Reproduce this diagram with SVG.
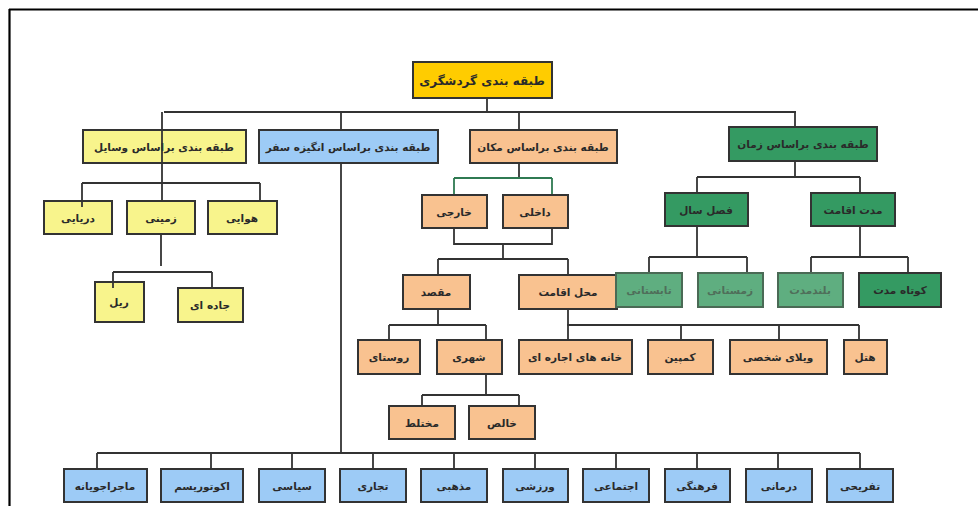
<svg xmlns="http://www.w3.org/2000/svg" width="978" height="506" viewBox="0 0 978 506">
<style>
.n rect{stroke:#333;stroke-width:2}
.y rect{fill:#f8f48c}
.r rect{fill:#ffcc00}
.b rect{fill:#9dcbf6}
.o rect{fill:#f9c290}
.g rect{fill:#349a62}
.gf rect{fill:#5fae80;stroke:#4a6a55}
text{font-family:"DejaVu Sans","Noto Sans",sans-serif;font-size:10.5px;font-weight:bold;text-anchor:middle;direction:rtl;fill:#2a2a2a}
.gf text{fill:#4f6e5a}
.c path{fill:none;stroke:#333;stroke-width:1.8}
</style>
<rect width="978" height="506" fill="#ffffff"/>
<path d="M9 9.5H978M9.5 9V506" stroke="#000" stroke-width="2.2" fill="none"/>
<g class="c" id="connectors">
<path d="M487 98V112M164 112H796M341 112V130M519 112V130M795 112V127"/>
<path d="M82 183H260M260 183V201M161 234V266M113 272H212M212 272V288"/>
<path d="M341 163V453"/>
<path d="M519 163V178"/>
<path d="M454 178H552M454 178V195M552 178V195" style="stroke:#2f7a52"/>
<path d="M454 228V244H552V228M503 244V259M438 259H568M438 259V275M568 259V275"/>
<path d="M438 309V325M389 325H486M389 325V340M486 325V340"/>
<path d="M568 309V340M567 325H859M681 325V340M779 325V340M859 325V340"/>
<path d="M486 374V395M422 395H519M422 395V406M519 395V406"/>
<path d="M97 453H860M97 453V469M211 453V469M292 453V469M373 453V469M454 453V469M535 453V469M616 453V469M697 453V469M778 453V469M860 453V469"/>
<path d="M795 161V177M697 177H860M697 177V193M860 177V193M697 226V257M649 257H747M649 257V273M747 257V273M860 226V257M811 257H908M811 257V273M908 257V273"/>
</g>
<g id="root" class="n r"><rect x="413" y="62" width="139" height="36"/><text x="482" y="84.5" style="font-size:12px">طبقه بندی گردشگری</text></g>
<g id="vasayel" class="n y"><rect x="83" y="130" width="163" height="33"/><text x="164" y="151">طبقه بندی براساس وسایل</text></g>
<g id="angize" class="n b"><rect x="259" y="130" width="179" height="33"/><text x="348" y="151">طبقه بندی براساس انگیزه سفر</text></g>
<g id="makan" class="n o"><rect x="470" y="130" width="147" height="33"/><text x="543" y="151">طبقه بندی براساس مکان</text></g>
<g id="zaman" class="n g"><rect x="729" y="127" width="148" height="34"/><text x="803" y="148">طبقه بندی براساس زمان</text></g>
<g id="daryayi" class="n y"><rect x="44" y="201" width="68" height="33"/><text x="78" y="222">دریایی</text></g>
<g id="zamini" class="n y"><rect x="127" y="201" width="68" height="33"/><text x="161" y="222">زمینی</text></g>
<g id="havayi" class="n y"><rect x="208" y="201" width="69" height="33"/><text x="242" y="222">هوایی</text></g>
<g id="rail" class="n y"><rect x="95" y="282" width="49" height="40"/><text x="119" y="306">ریل</text></g>
<g id="jadeh" class="n y"><rect x="178" y="288" width="65" height="34"/><text x="210" y="309">جاده ای</text></g>
<g id="khareji" class="n o"><rect x="422" y="195" width="65" height="33"/><text x="454" y="216">خارجی</text></g>
<g id="dakheli" class="n o"><rect x="503" y="195" width="65" height="33"/><text x="535" y="216">داخلی</text></g>
<g id="maghsad" class="n o"><rect x="403" y="275" width="67" height="34"/><text x="436" y="296">مقصد</text></g>
<g id="mahal" class="n o"><rect x="519" y="275" width="98" height="34"/><text x="568" y="296">محل اقامت</text></g>
<g id="roostay" class="n o"><rect x="358" y="340" width="62" height="34"/><text x="389" y="361">روستای</text></g>
<g id="shahri" class="n o"><rect x="437" y="340" width="65" height="34"/><text x="469" y="361">شهری</text></g>
<g id="khane" class="n o"><rect x="519" y="340" width="113" height="34"/><text x="575" y="361">خانه های اجاره ای</text></g>
<g id="kampin" class="n o"><rect x="648" y="340" width="65" height="34"/><text x="680" y="361">کمپین</text></g>
<g id="vila" class="n o"><rect x="730" y="340" width="97" height="34"/><text x="778" y="361">ویلای شخصی</text></g>
<g id="hotel" class="n o"><rect x="844" y="340" width="43" height="34"/><text x="865" y="361">هتل</text></g>
<g id="mokhtalet" class="n o"><rect x="389" y="406" width="66" height="33"/><text x="422" y="427">مختلط</text></g>
<g id="khales" class="n o"><rect x="469" y="406" width="66" height="33"/><text x="502" y="427">خالص</text></g>
<g id="fasl" class="n g"><rect x="665" y="193" width="83" height="33"/><text x="706" y="214">فصل سال</text></g>
<g id="moddat" class="n g"><rect x="811" y="193" width="84" height="33"/><text x="853" y="214">مدت اقامت</text></g>
<g id="tabestani" class="n gf"><rect x="616" y="273" width="66" height="34"/><text x="649" y="294">تابستانی</text></g>
<g id="zemestani" class="n gf"><rect x="698" y="273" width="65" height="34"/><text x="730" y="294">زمستانی</text></g>
<g id="boland" class="n gf"><rect x="778" y="273" width="65" height="34"/><text x="810" y="294">بلندمدت</text></g>
<g id="kootah" class="n g"><rect x="859" y="273" width="82" height="34"/><text x="900" y="294">کوتاه مدت</text></g>
<g id="majara" class="n b"><rect x="64" y="469" width="83" height="33"/><text x="105" y="490">ماجراجویانه</text></g>
<g id="eco" class="n b"><rect x="161" y="469" width="82" height="33"/><text x="202" y="490">اکوتوریسم</text></g>
<g id="siasi" class="n b"><rect x="259" y="469" width="66" height="33"/><text x="292" y="490">سیاسی</text></g>
<g id="tejari" class="n b"><rect x="340" y="469" width="66" height="33"/><text x="373" y="490">تجاری</text></g>
<g id="mazhabi" class="n b"><rect x="421" y="469" width="66" height="33"/><text x="454" y="490">مذهبی</text></g>
<g id="varzeshi" class="n b"><rect x="503" y="469" width="65" height="33"/><text x="535" y="490">ورزشی</text></g>
<g id="ejtemai" class="n b"><rect x="583" y="469" width="66" height="33"/><text x="616" y="490">اجتماعی</text></g>
<g id="farhangi" class="n b"><rect x="665" y="469" width="65" height="33"/><text x="697" y="490">فرهنگی</text></g>
<g id="darmani" class="n b"><rect x="746" y="469" width="66" height="33"/><text x="779" y="490">درمانی</text></g>
<g id="tafrihi" class="n b"><rect x="827" y="469" width="66" height="33"/><text x="860" y="490">تفریحی</text></g>
<g class="c" id="connectors-over">
<path d="M162 112V201M82 183V207M113 272V288"/>
</g>
</svg>
